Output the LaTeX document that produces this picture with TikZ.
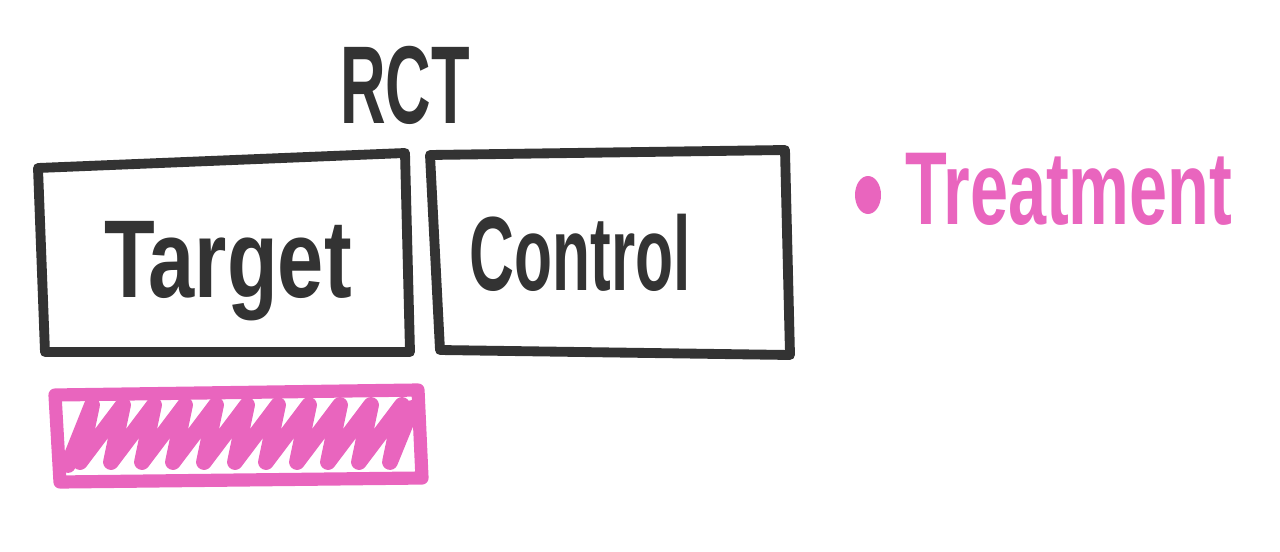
\documentclass[tikz,border=0pt]{standalone}
\usepackage{fontspec}
\setmainfont{Liberation Sans}
\definecolor{ink}{HTML}{333333}
\definecolor{pinkink}{HTML}{E965BE}
\tikzset{
  stroke/.style={line width=5.6pt, line cap=round, line join=round, ink},
  pstroke/.style={line width=7.5pt, line cap=round, line join=round, pinkink},
  lbl/.style={inner sep=0pt, text=ink},
  plbl/.style={inner sep=0pt, text=pinkink}
}
\begin{document}
\begin{tikzpicture}[x=0.02cm,y=-0.02cm]
\useasboundingbox (0,0) rectangle (1280,551);
% Target box
\draw[stroke] (38,168) -- (405,153) -- (410,352) -- (45,352) -- cycle;
% Control box
\draw[stroke] (430,155) -- (785,150) -- (790,355) -- (440,350) -- cycle;
% labels
\node[lbl, font=\bfseries\fontsize{63}{70}\selectfont] (rct) at (405,85) {\scalebox{0.57}[1]{RCT}};
\node[lbl, font=\bfseries\fontsize{63}{70}\selectfont, anchor=base] (target) at (228,297) {\scalebox{0.75}[1]{Target}};
\node[lbl, font=\bfseries\fontsize{60}{70}\selectfont, anchor=base] (control) at (580,290) {\scalebox{0.59}[1]{Control}};
% pink bar
\draw[pstroke] (55,395) -- (418,390) -- (422,478) -- (60,482) -- cycle;
\draw[pstroke, line width=9pt] (68,465) \foreach \i in {0,...,10} { -- ({92+\i*31},405) -- ({80+\i*31},462) } -- (412,408);
% treatment
\fill[pinkink] (868,195) ellipse [x radius=13, y radius=19];
\node[plbl, font=\bfseries\fontsize{59}{70}\selectfont, anchor=base west] (treat) at (905,224) {\scalebox{0.66}[1]{Treatment}};
\end{tikzpicture}
\end{document}
